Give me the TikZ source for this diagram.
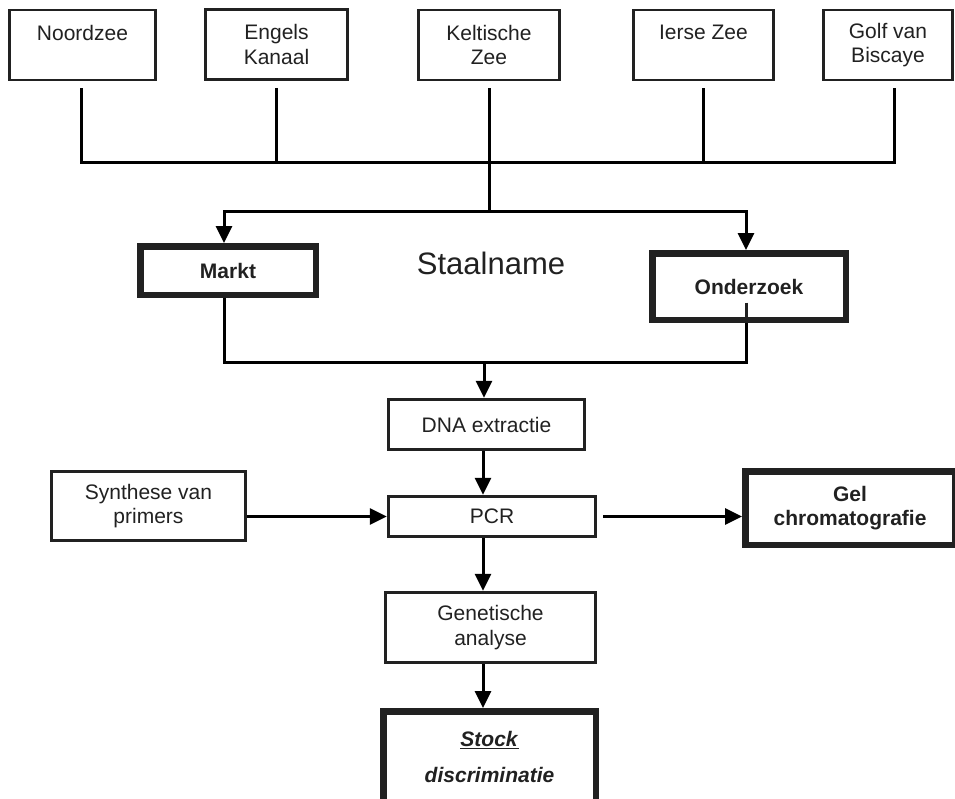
\documentclass[tikz,border=0pt]{standalone}
\usepackage{fontspec}
\setmainfont{Liberation Sans}
\usepackage{tikz}
\usetikzlibrary{calc,backgrounds,arrows.meta}
\definecolor{ink}{gray}{0.13}
\tikzstyle{flow}=[
  x=1pt, y=-1pt, >={Triangle[length=17pt,width=16pt]}, color=ink,
  font=\fontsize{21}{24.5}\selectfont
]
\tikzstyle{zee}=[
  draw, line width=2.8pt, inner sep=0pt, align=center, fill=white, minimum height=70pt
]
\tikzstyle{stepbox}=[
  draw, line width=2.8pt, inner sep=0pt, align=center, fill=white
]
\tikzstyle{keybox}=[
  draw, line width=6.5pt, inner sep=0pt, align=center, fill=white, font=\fontsize{21}{24.5}\selectfont\bfseries
]
\tikzstyle{wire}=[
    line width=3pt
]
\tikzstyle{flowedge}=[
    ->, line width=3pt
]

\begin{document}
\begin{tikzpicture}[flow]
        \useasboundingbox (0, 0) rectangle (955, 798);
        \def\gap{7}
        % zeeen
        \node (noord) at (82.5, 45) [zee, minimum width=146.5pt] {Noordzee\\\phantom{K}};
        \node (engels) at (276.5, 44.5) [zee, minimum width=142.5pt] {Engels\\Kanaal};
        \node (kelt) at (489, 45) [zee, minimum width=141.5pt] {Keltische\\Zee};
        \node (ierse) at (703.5, 45) [zee, minimum width=140.5pt] {Ierse Zee\\\phantom{K}};
        \node (golf) at (888, 45) [zee, minimum width=129.5pt] {Golf van\\Biscaye};

        \node (title) at (491, 263) [font=\fontsize{31}{36}\selectfont] {Staalname};
        \node (markt) at (228, 270.5) [keybox, minimum width=175.5pt, minimum height=48.5pt] {Markt};
        \node (onderz) at (749, 286.5) [keybox, minimum width=193.5pt, minimum height=66.5pt] {Onderzoek};

        \node (dna) at (486.5, 424.5) [stepbox, minimum width=196.5pt, minimum height=50.5pt] {DNA extractie};
        \node (synth) at (148.5, 506) [stepbox, minimum width=194.5pt, minimum height=69.5pt] {Synthese van\\primers};
        \node (pcr) at (492, 516.5) [stepbox, minimum width=207.5pt, minimum height=40.5pt] {PCR};
        \node (gel) at (850, 508) [keybox, minimum width=209.5pt, minimum height=73.5pt] {Gel\\chromatografie};
        \node (gen) at (490.5, 627.5) [stepbox, minimum width=210.5pt, minimum height=70.5pt] {Genetische\\analyse};
        \node (stock) at (489.5, 757) [keybox, minimum width=212.5pt, minimum height=91.5pt] {\underline{\textit{Stock}}\\[11pt]\textit{discriminatie}};

        \coordinate (bus) at (489, 162);
        \coordinate (split) at (489, 211);
        \coordinate (merge) at (484, 362);
        \coordinate (spine) at (483, 0);

        \begin{scope}[on background layer]
          \draw [wire] ($(noord.south)+(-1.5,\gap)$) |- (bus) -| ($(golf.south)+(6,\gap)$);
          \draw [wire] ($(engels.south)+(0,\gap)$) -- (engels.south |- bus);
          \draw [wire] ($(ierse.south)+(0,\gap)$) -- (ierse.south |- bus);
          \draw [wire] ($(kelt.south)+(0,\gap)$) -- (split);
          \draw [flowedge] (split) -| ($(markt.north)+(-4,0)$);
          \draw [flowedge] (split) -| ($(onderz.north)+(-3,0)$);
          \draw [wire] ($(markt.south)+(-4,0)$) |- (merge) -| ($(onderz.south)+(-3,0)$);

          \draw [flowedge] (merge) -- (merge |- dna.north);
          \draw [flowedge] (dna.south -| spine) -- (spine |- pcr.north);
          \draw [flowedge] (synth.east |- pcr) -- (pcr.west);
          \draw [flowedge] ($(pcr.east)+(6,0)$) -- (pcr.east -| gel.west);
          \draw [flowedge] (pcr.south -| spine) -- (spine |- gen.north);
          \draw [flowedge] (gen.south -| spine) -- (spine |- stock.north);
        \end{scope}
        \draw [wire] ($(onderz.center)+(-3,16)$) -- ($(onderz.south)+(-3,0)$);
\end{tikzpicture}
\end{document}
